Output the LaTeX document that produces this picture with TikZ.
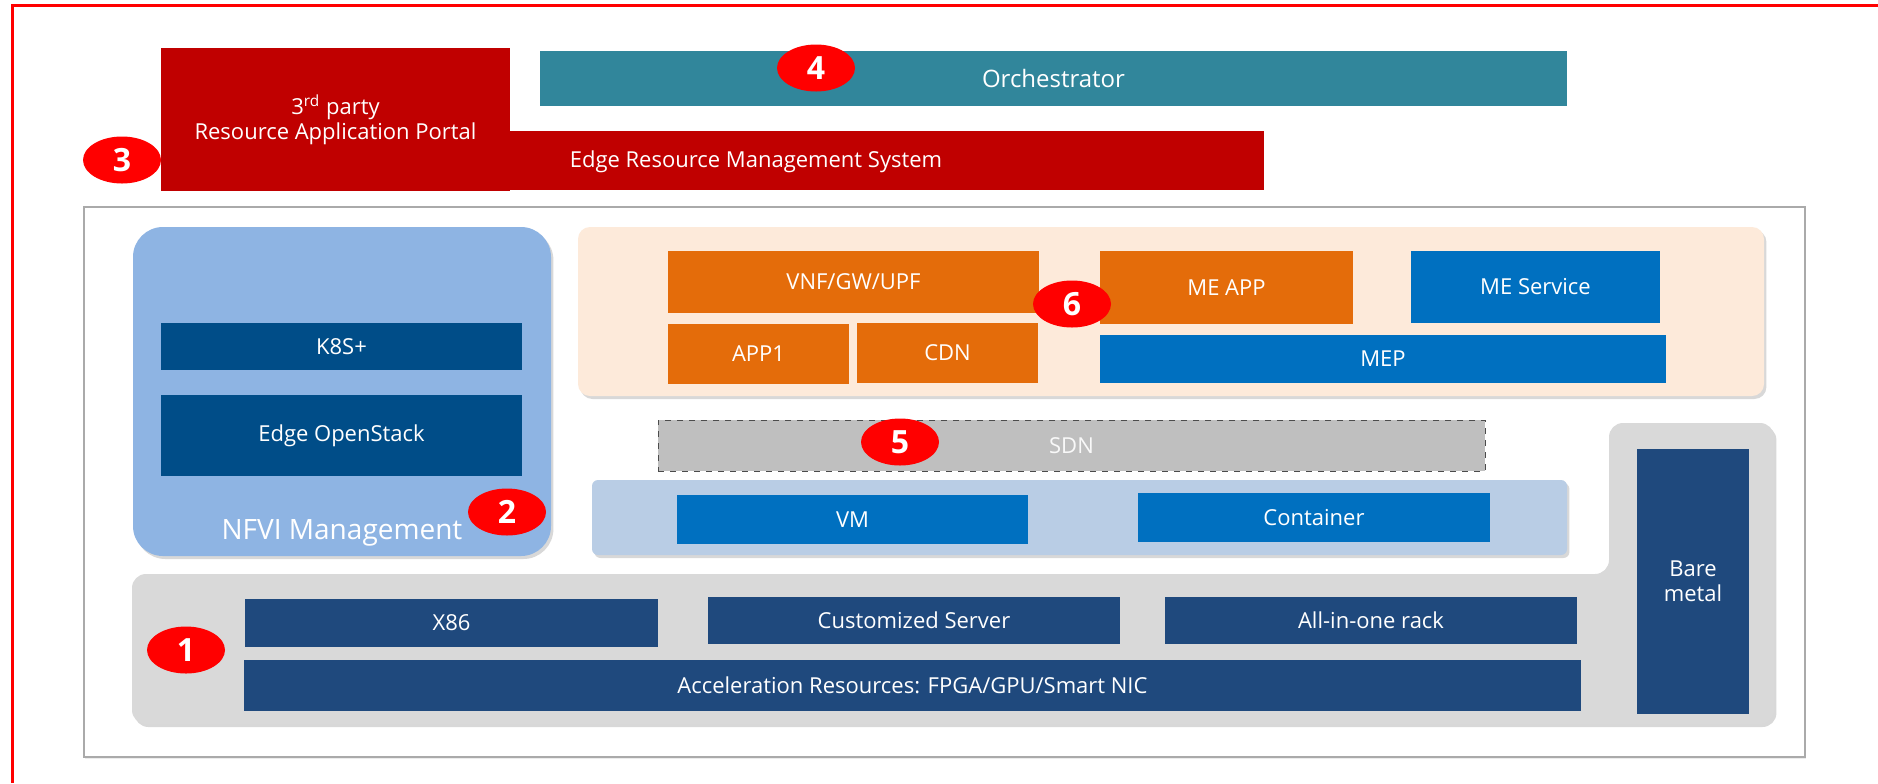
\documentclass[tikz,border=0pt]{standalone}
\usepackage{fontspec}
\setmainfont{Open Sans}
\usetikzlibrary{shapes.geometric,shadows}
\definecolor{portalred}{HTML}{C00000}
\definecolor{teal}{HTML}{31869B}
\definecolor{nfvi}{HTML}{8EB4E3}
\definecolor{k8sblue}{RGB}{0,77,136}
\definecolor{darkblue}{HTML}{1F497D}
\definecolor{peach}{HTML}{FDEADA}
\definecolor{appor}{HTML}{E46C0A}
\definecolor{meblue}{HTML}{0070C0}
\definecolor{sdngray}{HTML}{BFBFBF}
\definecolor{vmbox}{HTML}{B9CDE5}
\definecolor{hwgrey}{HTML}{D9D9D9}
\definecolor{framegrey}{HTML}{AAAAAA}
\tikzset{
  lbl/.style={text=white, font=\fontsize{11}{12.5}\selectfont, align=center},
  rbox/.style={inner sep=0pt, outer sep=0pt, lbl},
  sz/.style 2 args={minimum width=#1*0.5pt, minimum height=#2*0.5pt},
  badge/.style={ellipse, fill=red, minimum width=39pt, minimum height=23.5pt, inner sep=0pt,
    text=white, font=\bfseries\fontsize{16}{16}\selectfont},
  shad/.style={drop shadow={opacity=0.3, shadow xshift=1.2pt, shadow yshift=-1.5pt}},
}
\begin{document}
\begin{tikzpicture}[x=0.5pt,y=-0.5pt]
\useasboundingbox (0,0) rectangle (1878,783);
% red outer border
\draw[red, line width=1.5pt] (12,783) -- (12,5) -- (1878,5);
% top management layer
\node[rbox, fill=teal, sz={1027}{55}, font=\fontsize{12}{14}\selectfont] (orch) at (1053.5,78.5) {Orchestrator};
\node[rbox, fill=portalred, sz={764}{59}] (erms) at (882,160.5) {};
\node[lbl] (ermstext) at (756,162) {Edge Resource Management System};
\node[rbox, fill=portalred, sz={349}{143}] (portal) at (335.5,119.5) {3\textsuperscript{rd} party\\Resource Application Portal};
% grey frame
\node[draw=framegrey, line width=0.6pt, inner sep=0pt, sz={1721}{550}, drop shadow={opacity=0.15, shadow xshift=0.6pt, shadow yshift=-0.8pt}, fill=white] (frame) at (944.5,482) {};
% NFVI management
\node[rbox, fill=nfvi, rounded corners=15pt, shad, sz={418}{329}] (nfvi) at (342,391.5) {};
\node[rbox, fill=k8sblue, sz={361}{47}] (k8s) at (341.5,346.5) {K8S+};
\node[rbox, fill=k8sblue, sz={361}{81}] (openstack) at (341.5,435.5) {Edge OpenStack};
\node[lbl, font=\fontsize{14}{16}\selectfont] (nfvitext) at (342,533) {NFVI Management};
% application layer
\node[rbox, fill=peach, rounded corners=6pt, shad, sz={1186}{169}] (apparea) at (1171,311.5) {};
\node[rbox, fill=appor, sz={371}{62}] (vnf) at (853.5,282) {VNF/GW/UPF};
\node[rbox, fill=appor, sz={181}{60}] (app1) at (758.5,354) {APP1};
\node[rbox, fill=appor, sz={181}{60}] (cdn) at (947.5,353) {CDN};
\node[rbox, fill=appor, sz={253}{73}] (meapp) at (1226.5,287.5) {ME APP};
\node[rbox, fill=meblue, sz={249}{72}] (meservice) at (1535.5,287) {ME Service};
\node[rbox, fill=meblue, sz={566}{48}] (mep) at (1383,359) {MEP};
% SDN
\node[rbox, fill=sdngray, draw=black!70, dashed, line width=0.5pt, sz={827}{51}, text=white!95!gray] (sdn) at (1071.5,445.5) {SDN};
% virtualization
\node[rbox, fill=vmbox, rounded corners=3pt, shad, sz={975}{75}] (virt) at (1079.5,517.5) {};
\node[rbox, fill=meblue, sz={351}{49}] (vm) at (852.5,519.5) {VM};
\node[rbox, fill=meblue, sz={352}{49}] (container) at (1314,517.5) {Container};
% hardware layer
\path[fill=hwgrey, rounded corners=7pt, shad] (132,574) -- (1609,574) -- (1609,423) -- (1774,423) -- (1774,724) -- (132,724) -- cycle;
\node[rbox, fill=darkblue, sz={112}{265}] (bare) at (1693,581.5) {Bare\\metal};
\node[rbox, fill=darkblue, sz={413}{48}] (x86) at (451.5,623) {X86};
\node[rbox, fill=darkblue, sz={412}{47}] (cserver) at (914,620.5) {Customized Server};
\node[rbox, fill=darkblue, sz={412}{47}] (aio) at (1371,620.5) {All-in-one rack};
\node[rbox, fill=darkblue, sz={1337}{51}] (accel) at (912.5,685.5) {Acceleration Resources: FPGA/GPU/Smart NIC};
% badges
\node[badge] (b1) at (186,650) {1};
\node[badge] (b2) at (507,512) {2};
\node[badge] (b3) at (122,160) {3};
\node[badge] (b4) at (816,68) {4};
\node[badge] (b5) at (900,442) {5};
\node[badge] (b6) at (1072,304) {6};
\end{tikzpicture}
\end{document}
